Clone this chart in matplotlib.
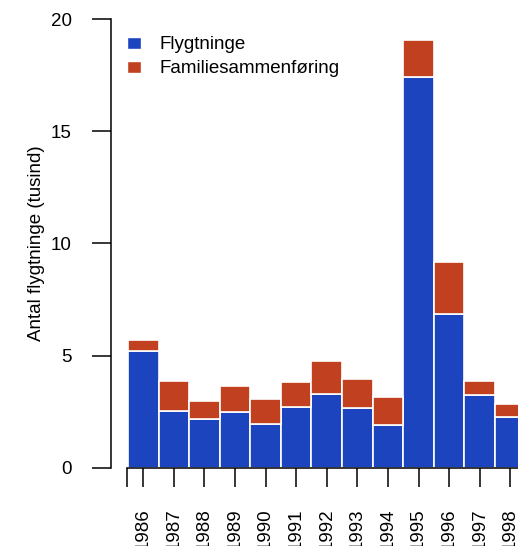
import numpy as np
import matplotlib
matplotlib.use('Agg')
import matplotlib.pyplot as plt
from matplotlib.patches import Patch

plt.rcParams['font.family'] = ['Liberation Sans', 'DejaVu Sans']

years = ['1986', '1987', '1988', '1989', '1990', '1991', '1992',
         '1993', '1994', '1995', '1996', '1997', '1998']
flygtninge = [5.21, 2.55, 2.20, 2.51, 1.95, 2.73, 3.30, 2.66, 1.92, 17.42, 6.86, 3.27, 2.26]
familie = [0.49, 1.33, 0.78, 1.16, 1.14, 1.10, 1.47, 1.29, 1.26, 1.64, 2.32, 0.59, 0.58]

blue = '#1c44bf'
red = '#c0401f'

fig = plt.figure(figsize=(5.18, 5.46), dpi=100)
W, H = 518, 546
ax = fig.add_axes([127 / W, (H - 468) / H, (518 - 127) / W, (468 - 19) / H])

x = np.arange(len(years))
ax.bar(x, flygtninge, width=1.0, color=blue, edgecolor='white', linewidth=1.2)
ax.bar(x, familie, width=1.0, bottom=flygtninge, color=red, edgecolor='white', linewidth=1.2)

ax.set_xlim(-0.53, 12.25)
ax.set_ylim(0, 20)

for s in ['top', 'right']:
    ax.spines[s].set_visible(False)
# R-style detached y axis
ax.spines['left'].set_position(('outward', 11.5))
ax.spines['left'].set_bounds(0, 20)
ax.spines['left'].set_linewidth(1.1)
ax.spines['bottom'].set_linewidth(1.1)

ax.set_yticks([0, 5, 10, 15, 20])
ax.tick_params(axis='y', length=13.7, width=1.1, pad=14.5, labelsize=13.5)
ax.set_xticks(np.concatenate([[-0.53], x]))
ax.set_xticklabels([''] + years, rotation=90, va='top')
ax.tick_params(axis='x', length=14, width=1.1, pad=15, labelsize=13.5)

ax.set_ylabel('Antal flygtninge (tusind)', fontsize=13.5)
ax.yaxis.set_label_coords(-0.21, 0.5)

handles = [Patch(facecolor=blue, edgecolor='white'),
           Patch(facecolor=red, edgecolor='white')]
ax.legend(handles, ['Flygtninge', 'Familiesammenføring'], loc='upper left',
          bbox_to_anchor=(-0.01, 0.97), frameon=False, fontsize=13.5,
          handlelength=0.78, handleheight=0.62, handletextpad=0.98,
          labelspacing=0.38, borderaxespad=0.0, borderpad=0.2)

fig.savefig('out.png', dpi=100)
